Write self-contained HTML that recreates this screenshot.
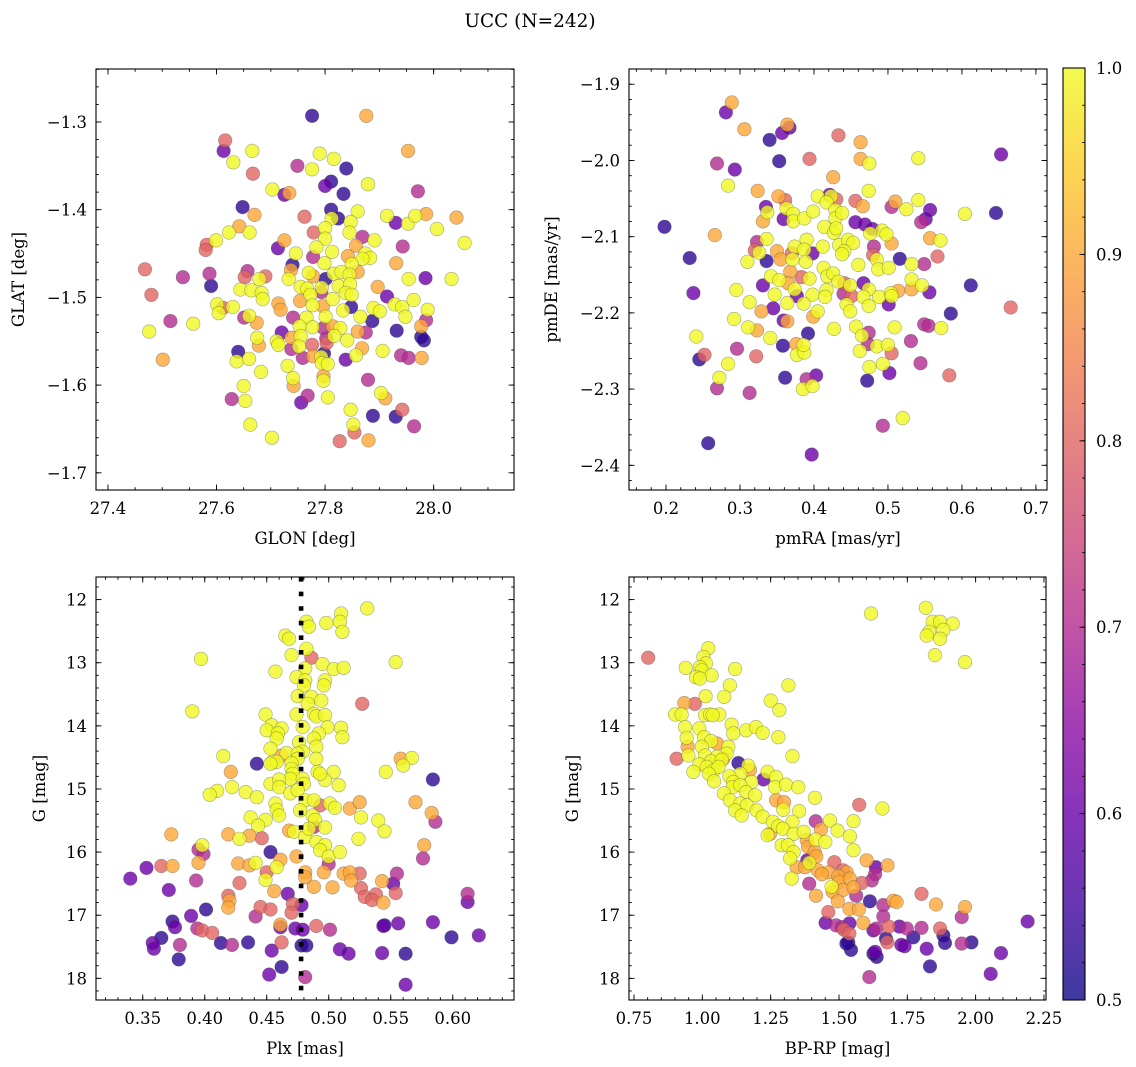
<!DOCTYPE html>
<html><head><meta charset="utf-8"><title>UCC (N=242)</title>
<style>
html,body{margin:0;padding:0;background:#fff;}
svg{display:block;font-family:"DejaVu Serif","Liberation Serif",serif;}
</style></head>
<body>
<svg id="fig" width="1136" height="1067" viewBox="0 0 1136 1067" xmlns="http://www.w3.org/2000/svg">
<rect width="1136" height="1067" fill="#fff"/>
<text x="530" y="27" font-size="18.5" text-anchor="middle">UCC (N=242)</text>
<defs>
<linearGradient id="plasmaGrad" x1="0" y1="1" x2="0" y2="0">
<stop offset="0" stop-color="#0d0887"/><stop offset="0.1" stop-color="#41049d"/><stop offset="0.2" stop-color="#6a00a8"/><stop offset="0.3" stop-color="#8f0da4"/><stop offset="0.4" stop-color="#b12a90"/><stop offset="0.5" stop-color="#cc4778"/><stop offset="0.6" stop-color="#e16462"/><stop offset="0.7" stop-color="#f2844b"/><stop offset="0.8" stop-color="#fca636"/><stop offset="0.9" stop-color="#fcce25"/><stop offset="1" stop-color="#f0f921"/>
</linearGradient>
</defs>
</svg>
<script>
// ---- Panel 1: GLON vs GLAT ----
const glon=[27.776,27.876,27.616,27.613,27.666,27.631,27.953,27.790,27.816,27.749,27.776,27.839,27.667,27.811,27.800,27.879,27.703,27.725,27.734,27.834,27.971,27.648,27.811,27.824,27.670,27.762,27.812,27.860,27.847,27.914,27.930,27.953,27.966,27.986,28.042,28.006,28.057,27.642,27.623,27.661,27.599,27.582,27.580,27.779,27.800,27.800,27.845,27.869,27.891,27.725,27.713,27.943,27.784,27.813,27.746,27.842,27.857,27.874,27.883,27.869,27.778,27.799,27.849,27.931,27.740,27.737,27.770,27.468,27.657,27.587,27.538,27.652,27.690,27.679,27.733,27.778,27.801,27.816,27.830,27.845,27.860,27.954,27.985,28.033,27.590,27.644,27.664,27.755,27.767,27.794,27.825,27.846,27.897,27.480,27.683,27.685,27.714,27.754,27.773,27.793,27.814,27.838,27.849,27.914,27.928,27.942,27.963,27.601,27.630,27.604,27.612,27.718,27.777,27.796,27.833,27.848,27.889,27.901,27.989,27.651,27.660,27.741,27.766,27.801,27.865,27.887,27.948,27.986,27.515,27.557,27.674,27.753,27.777,27.797,27.814,27.828,27.977,27.476,27.932,27.720,27.738,27.755,27.802,27.817,27.860,27.875,27.675,27.977,27.982,27.711,27.714,27.678,27.752,27.776,27.803,27.841,27.640,27.738,27.759,27.798,27.868,27.906,27.940,27.954,27.978,27.637,27.660,27.501,27.778,27.793,27.838,27.857,27.731,27.794,27.805,27.682,27.741,27.797,27.797,27.879,27.742,27.650,27.903,27.911,27.768,27.805,27.628,27.653,27.756,27.847,27.942,27.930,27.888,27.662,27.852,27.854,27.964,27.702,27.827,27.880];
const glat=[-1.293,-1.293,-1.321,-1.333,-1.333,-1.346,-1.333,-1.336,-1.342,-1.350,-1.354,-1.353,-1.359,-1.368,-1.373,-1.371,-1.377,-1.383,-1.381,-1.382,-1.379,-1.397,-1.400,-1.410,-1.406,-1.408,-1.410,-1.402,-1.414,-1.407,-1.415,-1.416,-1.407,-1.405,-1.409,-1.422,-1.438,-1.419,-1.426,-1.426,-1.435,-1.440,-1.446,-1.426,-1.421,-1.433,-1.426,-1.431,-1.435,-1.435,-1.444,-1.442,-1.443,-1.448,-1.450,-1.453,-1.441,-1.450,-1.455,-1.456,-1.454,-1.461,-1.462,-1.461,-1.463,-1.469,-1.472,-1.468,-1.470,-1.473,-1.477,-1.477,-1.476,-1.479,-1.479,-1.476,-1.479,-1.473,-1.471,-1.474,-1.471,-1.479,-1.478,-1.479,-1.487,-1.491,-1.492,-1.488,-1.490,-1.489,-1.487,-1.485,-1.488,-1.497,-1.495,-1.502,-1.507,-1.504,-1.497,-1.494,-1.502,-1.495,-1.497,-1.499,-1.508,-1.511,-1.503,-1.508,-1.511,-1.518,-1.512,-1.514,-1.509,-1.510,-1.515,-1.511,-1.512,-1.516,-1.514,-1.523,-1.521,-1.523,-1.523,-1.522,-1.522,-1.527,-1.522,-1.526,-1.527,-1.530,-1.529,-1.533,-1.534,-1.535,-1.533,-1.535,-1.533,-1.539,-1.538,-1.540,-1.546,-1.544,-1.547,-1.544,-1.539,-1.540,-1.546,-1.545,-1.549,-1.550,-1.554,-1.555,-1.556,-1.554,-1.552,-1.549,-1.562,-1.559,-1.569,-1.564,-1.558,-1.561,-1.566,-1.569,-1.569,-1.573,-1.570,-1.571,-1.567,-1.568,-1.571,-1.566,-1.578,-1.575,-1.576,-1.585,-1.592,-1.590,-1.595,-1.594,-1.601,-1.601,-1.609,-1.615,-1.612,-1.614,-1.616,-1.618,-1.620,-1.628,-1.628,-1.636,-1.635,-1.645,-1.645,-1.654,-1.647,-1.660,-1.664,-1.663];
const probPos=[0.53,0.9,0.8,0.6,1.0,1.0,0.9,1.0,1.0,0.7,1.0,0.53,0.8,0.53,0.6,1.0,1.0,0.6,0.9,0.53,0.7,0.53,0.53,0.53,0.9,0.8,1.0,1.0,1.0,1.0,0.6,1.0,1.0,0.9,0.9,1.0,1.0,0.9,1.0,1.0,1.0,0.8,0.8,0.8,1.0,1.0,1.0,0.7,1.0,0.9,0.6,0.7,1.0,1.0,1.0,0.9,0.9,1.0,1.0,1.0,0.7,1.0,1.0,0.9,0.53,0.9,1.0,0.8,0.7,0.7,0.7,0.8,0.8,1.0,1.0,0.9,0.53,1.0,1.0,1.0,0.9,1.0,0.6,1.0,0.53,1.0,1.0,1.0,1.0,1.0,1.0,1.0,0.9,0.8,1.0,1.0,0.9,0.9,1.0,0.7,1.0,1.0,1.0,0.6,1.0,1.0,1.0,1.0,1.0,1.0,0.8,0.9,1.0,0.9,1.0,0.53,1.0,1.0,1.0,0.7,1.0,0.7,1.0,1.0,1.0,0.53,1.0,0.7,0.7,1.0,0.9,1.0,1.0,0.7,0.9,1.0,0.9,1.0,0.53,0.6,0.9,1.0,0.7,1.0,0.9,0.7,1.0,0.53,0.53,1.0,1.0,0.9,1.0,0.8,0.8,1.0,0.53,0.7,0.7,0.53,0.9,1.0,0.7,0.7,0.9,1.0,1.0,0.9,0.9,1.0,0.6,1.0,1.0,1.0,1.0,1.0,1.0,0.9,1.0,0.7,0.9,1.0,1.0,0.9,0.7,1.0,0.7,1.0,0.6,1.0,0.8,0.53,0.53,1.0,1.0,0.8,0.7,1.0,0.8,0.9];

// ---- Panel 2: pmRA vs pmDE ----
const pmra=[0.281,0.289,0.306,0.340,0.357,0.364,0.367,0.433,0.463,0.269,0.293,0.353,0.394,0.463,0.475,0.541,0.653,0.426,0.284,0.324,0.474,0.352,0.361,0.405,0.421,0.423,0.430,0.456,0.466,0.505,0.510,0.525,0.541,0.557,0.551,0.545,0.604,0.646,0.335,0.337,0.331,0.359,0.363,0.372,0.372,0.387,0.399,0.417,0.429,0.429,0.438,0.456,0.469,0.479,0.492,0.476,0.498,0.505,0.557,0.571,0.567,0.516,0.549,0.532,0.198,0.266,0.232,0.237,0.336,0.323,0.320,0.326,0.310,0.336,0.350,0.355,0.370,0.374,0.371,0.390,0.387,0.389,0.398,0.412,0.414,0.427,0.430,0.434,0.446,0.453,0.441,0.438,0.460,0.481,0.480,0.485,0.487,0.501,0.331,0.342,0.353,0.347,0.368,0.365,0.383,0.374,0.364,0.377,0.394,0.398,0.386,0.413,0.418,0.417,0.415,0.426,0.433,0.441,0.440,0.449,0.451,0.444,0.449,0.467,0.474,0.467,0.474,0.488,0.501,0.504,0.514,0.505,0.532,0.532,0.546,0.556,0.612,0.666,0.295,0.313,0.329,0.345,0.292,0.311,0.323,0.341,0.359,0.364,0.399,0.405,0.427,0.392,0.457,0.465,0.474,0.509,0.549,0.555,0.572,0.585,0.241,0.245,0.252,0.296,0.284,0.272,0.269,0.322,0.358,0.376,0.377,0.387,0.386,0.462,0.473,0.485,0.500,0.505,0.493,0.475,0.531,0.544,0.583,0.361,0.390,0.403,0.385,0.398,0.472,0.502,0.313,0.520,0.493,0.257,0.397];
const pmde=[-1.937,-1.924,-1.959,-1.973,-1.964,-1.953,-1.957,-1.967,-1.976,-2.004,-2.012,-2.001,-1.998,-1.998,-2.004,-1.997,-1.992,-2.022,-2.033,-2.040,-2.040,-2.047,-2.052,-2.047,-2.045,-2.047,-2.051,-2.053,-2.060,-2.061,-2.054,-2.064,-2.052,-2.065,-2.077,-2.081,-2.070,-2.069,-2.061,-2.068,-2.080,-2.077,-2.063,-2.070,-2.080,-2.076,-2.067,-2.055,-2.065,-2.076,-2.069,-2.081,-2.084,-2.090,-2.092,-2.096,-2.097,-2.109,-2.102,-2.105,-2.126,-2.129,-2.136,-2.136,-2.087,-2.098,-2.128,-2.174,-2.103,-2.107,-2.118,-2.121,-2.133,-2.132,-2.119,-2.130,-2.122,-2.113,-2.130,-2.104,-2.117,-2.133,-2.122,-2.113,-2.087,-2.095,-2.089,-2.111,-2.104,-2.108,-2.119,-2.123,-2.137,-2.113,-2.124,-2.130,-2.143,-2.141,-2.164,-2.152,-2.157,-2.176,-2.146,-2.161,-2.153,-2.169,-2.187,-2.178,-2.155,-2.176,-2.188,-2.141,-2.152,-2.170,-2.179,-2.148,-2.159,-2.161,-2.175,-2.164,-2.178,-2.189,-2.198,-2.161,-2.169,-2.179,-2.191,-2.179,-2.189,-2.174,-2.171,-2.178,-2.156,-2.169,-2.164,-2.173,-2.164,-2.193,-2.170,-2.186,-2.198,-2.194,-2.208,-2.219,-2.223,-2.233,-2.210,-2.211,-2.205,-2.198,-2.221,-2.227,-2.218,-2.230,-2.226,-2.219,-2.215,-2.217,-2.220,-2.201,-2.231,-2.261,-2.255,-2.247,-2.267,-2.285,-2.299,-2.257,-2.243,-2.241,-2.255,-2.252,-2.242,-2.250,-2.241,-2.244,-2.242,-2.253,-2.267,-2.271,-2.237,-2.266,-2.282,-2.285,-2.287,-2.282,-2.300,-2.296,-2.289,-2.279,-2.305,-2.338,-2.348,-2.371,-2.386];
const probPM=[0.6,0.9,0.9,0.53,0.6,0.9,0.6,0.8,0.9,0.7,0.6,0.53,0.8,0.9,1.0,1.0,0.6,0.9,1.0,0.9,1.0,0.9,0.8,1.0,0.6,1.0,0.8,0.8,0.9,0.7,0.9,1.0,1.0,0.6,0.6,0.7,1.0,0.53,0.6,1.0,0.9,0.6,1.0,1.0,1.0,1.0,1.0,1.0,1.0,1.0,1.0,0.6,0.6,0.6,1.0,1.0,1.0,0.9,0.9,1.0,0.8,0.53,0.7,1.0,0.53,0.9,0.53,0.6,1.0,0.7,0.8,1.0,1.0,0.53,0.9,0.9,0.8,1.0,1.0,1.0,1.0,1.0,0.6,1.0,1.0,1.0,1.0,1.0,1.0,1.0,1.0,1.0,1.0,0.7,0.8,1.0,1.0,1.0,0.6,1.0,1.0,1.0,0.9,0.9,0.8,1.0,1.0,0.6,1.0,1.0,1.0,1.0,1.0,1.0,1.0,1.0,1.0,0.8,0.7,1.0,0.8,1.0,1.0,0.6,1.0,1.0,1.0,1.0,0.6,1.0,0.9,1.0,1.0,0.9,1.0,0.6,0.53,0.8,1.0,1.0,0.9,0.6,1.0,1.0,0.9,1.0,0.6,0.9,0.9,1.0,1.0,0.53,1.0,1.0,0.7,1.0,0.7,0.7,1.0,0.53,1.0,0.53,0.8,0.7,1.0,1.0,0.7,0.8,0.53,0.9,1.0,1.0,1.0,1.0,0.7,1.0,1.0,0.8,1.0,1.0,0.7,0.7,0.8,0.53,0.7,0.6,1.0,1.0,0.53,0.6,0.7,1.0,0.7,0.53,0.6];

// ---- Panel 3: Plx vs G ----
const plx=[0.531,0.510,0.482,0.484,0.498,0.509,0.511,0.465,0.468,0.482,0.470,0.486,0.397,0.554,0.495,0.504,0.512,0.481,0.457,0.474,0.481,0.497,0.496,0.480,0.475,0.486,0.494,0.483,0.527,0.390,0.449,0.474,0.488,0.490,0.497,0.479,0.499,0.510,0.511,0.492,0.488,0.454,0.450,0.462,0.459,0.458,0.476,0.490,0.453,0.479,0.466,0.475,0.462,0.415,0.475,0.470,0.490,0.558,0.567,0.560,0.442,0.455,0.458,0.453,0.470,0.471,0.469,0.421,0.491,0.504,0.546,0.453,0.460,0.460,0.479,0.480,0.497,0.493,0.508,0.584,0.422,0.433,0.410,0.404,0.442,0.469,0.475,0.481,0.488,0.493,0.501,0.505,0.517,0.525,0.570,0.457,0.458,0.460,0.477,0.487,0.489,0.437,0.449,0.443,0.526,0.540,0.545,0.583,0.586,0.497,0.488,0.468,0.472,0.481,0.484,0.490,0.373,0.419,0.428,0.436,0.446,0.524,0.497,0.493,0.500,0.509,0.577,0.398,0.395,0.399,0.453,0.474,0.576,0.353,0.365,0.374,0.395,0.427,0.436,0.441,0.461,0.458,0.450,0.481,0.500,0.496,0.512,0.517,0.525,0.555,0.340,0.393,0.428,0.449,0.481,0.488,0.503,0.518,0.543,0.552,0.526,0.371,0.456,0.467,0.529,0.538,0.535,0.544,0.554,0.612,0.612,0.419,0.420,0.419,0.445,0.453,0.471,0.470,0.478,0.401,0.389,0.374,0.376,0.441,0.461,0.461,0.473,0.479,0.490,0.501,0.394,0.398,0.406,0.545,0.544,0.556,0.584,0.599,0.621,0.365,0.358,0.359,0.380,0.413,0.422,0.435,0.462,0.478,0.482,0.454,0.509,0.516,0.543,0.562,0.379,0.462,0.452,0.481,0.562];
const gPlx=[12.14,12.22,12.35,12.43,12.37,12.35,12.51,12.57,12.62,12.78,12.88,12.92,12.94,12.99,13.02,13.10,13.08,13.09,13.14,13.23,13.28,13.28,13.36,13.36,13.53,13.54,13.60,13.65,13.65,13.77,13.82,13.82,13.81,13.85,13.83,14.02,14.02,14.03,14.18,14.12,14.20,13.99,14.07,14.04,14.12,14.20,14.26,14.33,14.36,14.41,14.43,14.44,14.47,14.48,14.52,14.59,14.52,14.52,14.51,14.63,14.60,14.57,14.57,14.60,14.68,14.76,14.84,14.73,14.73,14.73,14.73,14.92,14.85,14.97,14.84,14.92,14.86,14.76,14.94,14.85,14.97,15.05,15.03,15.09,15.13,15.07,15.02,15.18,15.18,15.26,15.23,15.30,15.31,15.21,15.21,15.23,15.33,15.42,15.34,15.42,15.49,15.45,15.49,15.58,15.45,15.50,15.67,15.38,15.52,15.61,15.60,15.66,15.68,15.76,15.63,15.84,15.72,15.72,15.79,15.74,15.78,15.79,15.89,15.97,16.07,16.00,15.89,15.89,15.96,16.03,16.00,16.07,16.10,16.25,16.22,16.22,16.17,16.18,16.21,16.17,16.12,16.24,16.32,16.32,16.19,16.32,16.34,16.32,16.34,16.34,16.42,16.45,16.49,16.44,16.40,16.55,16.56,16.45,16.46,16.50,16.57,16.60,16.62,16.66,16.71,16.67,16.76,16.80,16.65,16.66,16.79,16.69,16.77,16.88,16.87,16.91,16.82,16.96,16.84,16.91,17.01,17.10,17.19,17.02,17.15,17.19,17.21,17.23,17.17,17.23,17.21,17.24,17.28,17.16,17.17,17.13,17.11,17.35,17.32,17.36,17.44,17.53,17.47,17.44,17.47,17.43,17.43,17.48,17.48,17.56,17.54,17.61,17.60,17.61,17.70,17.82,17.94,17.98,18.10];
const probPlx=[1.0,1.0,1.0,1.0,1.0,1.0,1.0,1.0,1.0,1.0,1.0,0.8,1.0,1.0,1.0,1.0,1.0,1.0,1.0,1.0,1.0,1.0,1.0,1.0,1.0,1.0,1.0,1.0,0.8,1.0,1.0,1.0,1.0,1.0,1.0,1.0,1.0,1.0,1.0,1.0,1.0,1.0,1.0,1.0,1.0,1.0,1.0,1.0,1.0,1.0,1.0,1.0,0.9,1.0,1.0,1.0,1.0,0.9,1.0,1.0,0.53,1.0,1.0,1.0,1.0,1.0,1.0,0.9,1.0,1.0,1.0,1.0,1.0,1.0,1.0,1.0,1.0,1.0,1.0,0.53,1.0,1.0,1.0,1.0,1.0,1.0,1.0,1.0,1.0,0.8,1.0,1.0,0.9,0.9,0.9,1.0,1.0,1.0,1.0,1.0,1.0,1.0,1.0,1.0,1.0,1.0,1.0,0.9,0.7,1.0,0.7,0.9,1.0,1.0,1.0,1.0,0.9,0.9,1.0,0.9,0.8,1.0,1.0,1.0,1.0,1.0,0.9,1.0,0.7,0.7,0.53,0.9,0.7,0.6,0.8,0.9,0.9,0.9,0.9,1.0,0.9,1.0,0.8,0.9,0.7,0.9,0.9,0.9,0.8,0.7,0.6,0.7,0.8,1.0,0.9,0.9,0.9,0.9,0.9,0.6,0.8,0.6,0.9,0.6,0.8,0.8,0.8,0.9,0.8,0.7,0.6,0.8,0.9,0.9,0.8,0.8,0.8,0.8,0.6,0.53,0.6,0.53,0.6,0.7,0.9,0.6,0.6,0.6,0.8,0.7,0.7,0.8,0.8,0.53,0.6,0.6,0.6,0.53,0.6,0.53,0.6,0.6,0.7,0.53,0.7,0.53,0.8,0.53,0.53,0.6,0.6,0.6,0.6,0.53,0.53,0.53,0.6,0.7,0.6];

// ---- Panel 4: BP-RP vs G ----
const bprp=[0.802,1.617,1.818,1.843,1.870,1.916,1.882,1.830,1.821,1.870,1.851,1.961,1.022,1.004,1.013,0.939,0.991,0.998,1.034,1.120,0.977,0.991,1.101,1.315,1.012,1.080,1.250,1.282,0.973,0.934,0.900,0.924,1.010,1.028,1.062,1.038,1.107,0.937,0.989,1.160,1.196,1.221,1.113,1.278,0.943,1.007,1.032,1.054,0.946,0.998,1.095,1.089,1.330,0.949,0.906,1.010,1.054,1.032,1.071,1.077,1.132,1.168,0.989,1.016,1.043,1.059,0.967,1.024,1.174,1.139,1.239,1.099,1.043,1.224,1.270,1.180,1.113,1.111,1.139,1.266,1.306,1.351,1.079,1.160,1.193,1.101,1.412,1.139,1.163,1.270,1.299,1.296,1.120,1.199,1.354,1.574,1.659,1.144,1.221,1.258,1.278,1.415,1.330,1.467,1.553,1.248,1.239,1.295,1.334,1.371,1.434,1.495,1.540,1.382,1.415,1.450,1.290,1.313,1.387,1.553,1.334,1.411,1.417,1.321,1.384,1.483,1.391,1.601,1.678,1.345,1.376,1.423,1.462,1.515,1.528,1.635,1.632,1.437,1.498,1.327,1.391,1.501,1.540,1.620,1.583,1.473,1.477,1.515,1.553,1.563,1.416,1.496,1.802,1.613,1.662,1.699,1.711,1.855,1.961,1.461,1.538,1.573,1.662,1.949,2.190,1.451,1.489,1.511,1.538,1.518,1.589,1.626,1.637,1.682,1.721,1.748,1.802,1.870,1.538,1.672,1.677,1.772,1.882,1.888,1.728,1.740,1.821,1.949,1.985,1.534,1.544,1.527,1.626,1.638,1.632,2.093,1.833,2.055,1.611];
const gCol=[12.92,12.22,12.13,12.35,12.35,12.38,12.48,12.51,12.57,12.62,12.88,12.99,12.77,12.91,13.01,13.08,13.07,13.12,13.20,13.10,13.23,13.25,13.36,13.36,13.53,13.54,13.60,13.75,13.65,13.64,13.82,13.82,13.83,13.82,13.82,13.83,13.98,14.02,14.04,14.07,14.02,14.11,14.12,14.18,14.19,14.18,14.24,14.28,14.33,14.33,14.33,14.44,14.48,14.47,14.52,14.47,14.49,14.56,14.54,14.52,14.59,14.63,14.61,14.65,14.70,14.65,14.73,14.76,14.70,14.76,14.73,14.80,14.88,14.85,14.81,14.89,14.89,14.97,14.94,14.97,14.93,14.97,15.07,15.05,15.10,15.18,15.14,15.23,15.26,15.18,15.21,15.33,15.34,15.34,15.35,15.25,15.31,15.42,15.44,15.52,15.59,15.51,15.52,15.50,15.51,15.71,15.73,15.63,15.71,15.68,15.64,15.66,15.75,15.81,15.80,15.84,15.89,15.89,15.92,15.97,16.00,16.00,16.07,16.10,16.13,16.16,16.17,16.13,16.21,16.24,16.24,16.29,16.32,16.29,16.32,16.24,16.35,16.35,16.38,16.42,16.50,16.47,16.42,16.45,16.49,16.55,16.63,16.60,16.56,16.69,16.69,16.78,16.66,16.78,16.84,16.77,16.79,16.83,16.87,16.95,16.90,16.91,17.02,17.03,17.10,17.12,17.16,17.19,17.13,17.23,17.12,17.24,17.21,17.18,17.18,17.21,17.20,17.21,17.29,17.37,17.43,17.35,17.32,17.44,17.47,17.49,17.53,17.45,17.43,17.43,17.55,17.45,17.61,17.66,17.58,17.60,17.81,17.93,17.98];
const probCol=[0.8,1.0,1.0,1.0,1.0,1.0,1.0,1.0,1.0,1.0,1.0,1.0,1.0,1.0,1.0,1.0,1.0,1.0,1.0,1.0,1.0,1.0,1.0,1.0,1.0,1.0,1.0,1.0,0.8,0.9,1.0,1.0,1.0,1.0,1.0,1.0,1.0,1.0,1.0,1.0,1.0,1.0,1.0,1.0,1.0,1.0,1.0,0.9,0.9,1.0,1.0,1.0,1.0,1.0,0.8,1.0,1.0,1.0,1.0,0.9,0.53,1.0,1.0,1.0,1.0,1.0,1.0,1.0,0.9,1.0,1.0,1.0,1.0,0.6,1.0,1.0,1.0,1.0,1.0,1.0,1.0,1.0,1.0,1.0,1.0,1.0,1.0,1.0,1.0,0.9,0.9,1.0,1.0,1.0,1.0,0.8,1.0,1.0,1.0,1.0,1.0,0.7,1.0,1.0,1.0,0.9,1.0,1.0,1.0,1.0,0.9,1.0,1.0,0.9,1.0,1.0,1.0,1.0,0.9,1.0,1.0,0.9,0.9,1.0,0.6,0.8,1.0,0.9,0.9,0.9,0.9,0.9,0.9,0.8,0.9,0.6,0.7,0.9,0.9,1.0,0.7,0.9,0.9,0.7,0.8,1.0,0.9,0.9,0.9,0.7,0.9,0.9,0.8,0.53,0.7,0.9,0.9,0.9,0.9,0.8,0.9,0.9,0.7,0.7,0.6,0.6,0.7,0.7,0.6,0.8,0.9,0.6,0.7,0.8,0.6,0.7,0.7,0.8,0.8,0.53,0.8,0.53,0.53,0.53,0.6,0.6,0.6,0.7,0.53,0.53,0.53,0.53,0.53,0.53,0.6,0.6,0.53,0.6,0.7];

const cbTicks=[0.5,0.6,0.7,0.8,0.9,1.0];
const plxRef=[0.4777];

const NS='http://www.w3.org/2000/svg';
const svg=document.getElementById('fig');
const plasma=[[13,8,135],[65,4,157],[106,0,168],[143,13,164],[177,42,144],[204,71,120],[225,100,98],[242,132,75],[252,166,54],[252,206,37],[240,249,33]];
function pcol(p){let t=Math.max(0,Math.min(1,(p-0.5)/0.5))*10;let i=Math.min(9,Math.floor(t));let f=t-i;let a=plasma[i],b=plasma[i+1];return 'rgb('+[0,1,2].map(k=>Math.round(a[k]+(b[k]-a[k])*f)).join(',')+')';}
function el(tag,attrs,parent){const e=document.createElementNS(NS,tag);for(const k in attrs)e.setAttribute(k,attrs[k]);(parent||svg).appendChild(e);return e;}
function fmt(v,d){const s=Math.abs(v).toFixed(d);return (v<-1e-9?'\u2212':'')+s;}

function panel(name,box,xd,yd,yInv,xt,xmin,yt,ymin,xs,ys,ps,xlabel,ylabel,xdec,ydec,ylx){
  const g=el('g',{});
  
  
  const W=box.x1-box.x0,H=box.y1-box.y0;
  const sx=v=>box.x0+(v-xd[0])/(xd[1]-xd[0])*W;
  const sy=v=>yInv?box.y0+(v-yd[0])/(yd[1]-yd[0])*H:box.y1-(v-yd[0])/(yd[1]-yd[0])*H;
  const clip=el('clipPath',{id:name+'-clip'},g);
  el('rect',{x:box.x0,y:box.y0,width:W,height:H},clip);
  const pts=el('g',{'clip-path':'url(#'+name+'-clip)'},g);
  
  
  const idx=ps.map((p,i)=>i).sort((a,b)=>ps[a]-ps[b]);
  idx.forEach(i=>{
    const c=el('circle',{cx:sx(xs[i]).toFixed(1),cy:sy(ys[i]).toFixed(1),r:6.8,fill:pcol(ps[i]),'fill-opacity':0.8,stroke:'#444','stroke-opacity':0.45,'stroke-width':0.6},pts);
    
    
  });
  const tk=el('g',{stroke:'#000','stroke-width':0.9},g);
  for(let k=Math.ceil(xd[0]/xmin-1e-6);k*xmin<=xd[1]+1e-9;k++){const x=sx(k*xmin);el('line',{x1:x,x2:x,y1:box.y1,y2:box.y1-2.8},tk);el('line',{x1:x,x2:x,y1:box.y0,y2:box.y0+2.8},tk);}
  const ylo=Math.min(yd[0],yd[1]),yhi=Math.max(yd[0],yd[1]);
  for(let k=Math.ceil(ylo/ymin-1e-6);k*ymin<=yhi+1e-9;k++){const y=sy(k*ymin);el('line',{x1:box.x0,x2:box.x0+2.8,y1:y,y2:y},tk);el('line',{x1:box.x1,x2:box.x1-2.8,y1:y,y2:y},tk);}
  xt.forEach(v=>{const x=sx(v);el('line',{x1:x,x2:x,y1:box.y1,y2:box.y1-5.5},tk);el('line',{x1:x,x2:x,y1:box.y0,y2:box.y0+5.5},tk);
    const t=el('text',{x:x,y:box.y1+24,'font-size':16.5,'text-anchor':'middle'},g);t.textContent=fmt(v,xdec);
    
    });
  yt.forEach(v=>{const y=sy(v);el('line',{x1:box.x0,x2:box.x0+5.5,y1:y,y2:y},tk);el('line',{x1:box.x1,x2:box.x1-5.5,y1:y,y2:y},tk);
    const t=el('text',{x:box.x0-9,y:y+6,'font-size':16.5,'text-anchor':'end'},g);t.textContent=fmt(v,ydec);
    
    });
  const fr=el('rect',{x:box.x0,y:box.y0,width:W,height:H,fill:'none',stroke:'#000','stroke-width':1.1},g);
  
  
  const xl=el('text',{x:(box.x0+box.x1)/2,y:box.y1+54,'font-size':16.5,'text-anchor':'middle'},g);xl.textContent=xlabel;
  
  
  const cy=(box.y0+box.y1)/2;
  const yl=el('text',{x:ylx,y:cy,'font-size':16.5,'text-anchor':'middle',transform:'rotate(-90 '+ylx+' '+cy+')'},g);yl.textContent=ylabel;
  
  
  return {sx,sy,g};
}

panel('position-panel',{x0:96,x1:514,y0:69,y1:490},[27.378,28.148],[-1.7196,-1.2396],false,[27.4,27.6,27.8,28.0],0.05,[-1.3,-1.4,-1.5,-1.6,-1.7],0.02,glon,glat,probPos,'GLON [deg]','GLAT [deg]',1,1,24);
panel('proper-motion-panel',{x0:629,x1:1047,y0:69,y1:490},[0.15,0.715],[-2.4324,-1.88],false,[0.2,0.3,0.4,0.5,0.6,0.7],0.02,[-1.9,-2.0,-2.1,-2.2,-2.3,-2.4],0.02,pmra,pmde,probPM,'pmRA [mas/yr]','pmDE [mas/yr]',1,1,557);
const bl=panel('parallax-panel',{x0:96,x1:514,y0:577,y1:1000},[0.3123,0.6494],[11.642,18.343],true,[0.35,0.40,0.45,0.50,0.55,0.60],0.01,[12,13,14,15,16,17,18],0.2,plx,gPlx,probPlx,'Plx [mas]','G [mag]',2,0,45);
panel('cmd-panel',{x0:629,x1:1046,y0:577,y1:1000},[0.7317,2.2575],[11.642,18.343],true,[0.75,1.0,1.25,1.5,1.75,2.0,2.25],0.05,[12,13,14,15,16,17,18],0.2,bprp,gCol,probCol,'BP-RP [mag]','G [mag]',2,0,578);

plxRef.forEach(v=>{
  const ln=el('line',{x1:bl.sx(v),x2:bl.sx(v),y1:577,y2:1000,stroke:'#000','stroke-width':4.6,'stroke-dasharray':'4.6 10'});
  
  
});

const cb=el('g',{});


const cbx0=1063,cbx1=1085,cby0=68,cby1=1000;
el('rect',{x:cbx0,y:cby0,width:cbx1-cbx0,height:cby1-cby0,fill:'url(#plasmaGrad)','fill-opacity':0.8},cb);
el('rect',{x:cbx0,y:cby0,width:cbx1-cbx0,height:cby1-cby0,fill:'none',stroke:'#000','stroke-width':1.1},cb);
const cbs=v=>cby1-(v-0.5)/0.5*(cby1-cby0);
for(let k=25;k<=50;k++){const y=cbs(k*0.02);el('line',{x1:cbx1,x2:cbx1-2.8,y1:y,y2:y,stroke:'#000','stroke-width':0.9},cb);}
cbTicks.forEach(v=>{const y=cbs(v);el('line',{x1:cbx1,x2:cbx1-5.5,y1:y,y2:y,stroke:'#000','stroke-width':0.9},cb);
  const t=el('text',{x:1096,y:y+6,'font-size':16.5},cb);t.textContent=v.toFixed(1);
  
  });
</script>
</body></html>
